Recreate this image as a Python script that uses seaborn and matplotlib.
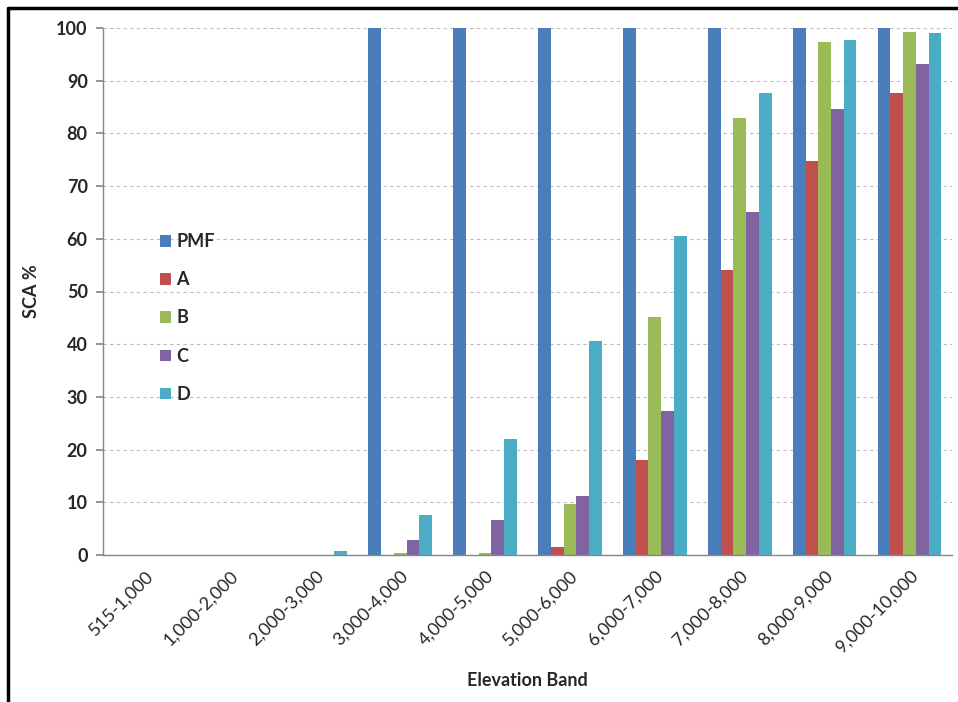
import matplotlib
matplotlib.use("Agg")
import matplotlib.pyplot as plt
from matplotlib.lines import Line2D
from matplotlib.patches import Patch
import seaborn as sns
import pandas as pd

bands = ["515-1,000", "1,000-2,000", "2,000-3,000", "3,000-4,000", "4,000-5,000",
         "5,000-6,000", "6,000-7,000", "7,000-8,000", "8,000-9,000", "9,000-10,000"]
series_names = ["PMF", "A", "B", "C", "D"]
pmf = [0, 0, 0, 100, 100, 100, 100, 100, 100, 100]
a_vals = [0, 0, 0, 0, 0, 1.5, 18, 54, 74.8, 87.6]
b_vals = [0, 0, 0, 0.3, 0.3, 9.6, 45.2, 83, 97.3, 99.2]
c_vals = [0, 0, 0, 2.8, 6.7, 11.2, 27.4, 65, 84.7, 93.2]
d_vals = [0, 0, 0.7, 7.6, 22, 40.6, 60.5, 87.6, 97.7, 99]
colors = ["#4A7EBB", "#C0504D", "#9BBB59", "#8064A2", "#4BACC6"]
y_ticks = [0, 10, 20, 30, 40, 50, 60, 70, 80, 90, 100]

rows = []
for name, vals in zip(series_names, [pmf, a_vals, b_vals, c_vals, d_vals]):
    for band, v in zip(bands, vals):
        rows.append({"Elevation Band": band, "Series": name, "SCA %": v})
df = pd.DataFrame(rows)

sns.set_theme(style="white")
plt.rcParams["font.family"] = ["Lato", "DejaVu Sans"]

fs = 13
fig = plt.figure(figsize=(9.58, 7.02), dpi=100)
ax = fig.add_axes([103/958, 1 - 555/702, (952-103)/958, (555-28)/702])

sns.barplot(data=df, x="Elevation Band", y="SCA %", hue="Series",
            order=bands, hue_order=series_names, palette=colors,
            saturation=1, width=0.75, ax=ax, legend=False, linewidth=0)

ax.set_ylim(0, 100)
ax.set_xlim(-0.5, len(bands) - 0.5)
ax.set_yticks(y_ticks)
ax.set_yticklabels([str(t) for t in y_ticks], fontsize=fs, fontweight="bold")
ax.set_xticks(range(len(bands)))
ax.set_xticklabels(bands, rotation=45, ha="right", rotation_mode="anchor", fontsize=fs)
ax.set_xticks([i + 0.5 for i in range(-1, len(bands))], minor=True)
ax.tick_params(axis="x", which="major", length=0, pad=9)
ax.tick_params(axis="x", which="minor", length=5, color="#868686", direction="out")
ax.tick_params(axis="y", length=5, color="#868686", direction="out", left=True, pad=6)

ax.yaxis.grid(True, linestyle=(0, (3, 3)), color="#BDBDBD", linewidth=0.8)
ax.set_axisbelow(True)
for side in ["top", "right"]:
    ax.spines[side].set_visible(False)
for side in ["left", "bottom"]:
    ax.spines[side].set_color("#868686")
    ax.spines[side].set_linewidth(1)

ax.set_ylabel("SCA %", fontsize=fs, fontweight="bold", labelpad=12)
ax.set_xlabel("Elevation Band", fontsize=fs, fontweight="bold", labelpad=12)

handles = [Patch(facecolor=c, edgecolor="none") for c in colors]
leg = fig.legend(handles, series_names, loc="upper left",
                 bbox_to_anchor=(144/958, 1 - 217/702), frameon=False,
                 fontsize=fs,
                 handlelength=0.6, handleheight=0.6, handletextpad=0.3,
                 labelspacing=1.17)
for t in leg.get_texts():
    t.set_fontweight("bold")

fig.add_artist(Line2D([8/958, 1], [1 - 8/702, 1 - 8/702], color="black", linewidth=2.5, transform=fig.transFigure))
fig.add_artist(Line2D([8/958, 8/958], [0, 1 - 8/702], color="black", linewidth=2.5, transform=fig.transFigure))

fig.savefig("out.png", dpi=100)
